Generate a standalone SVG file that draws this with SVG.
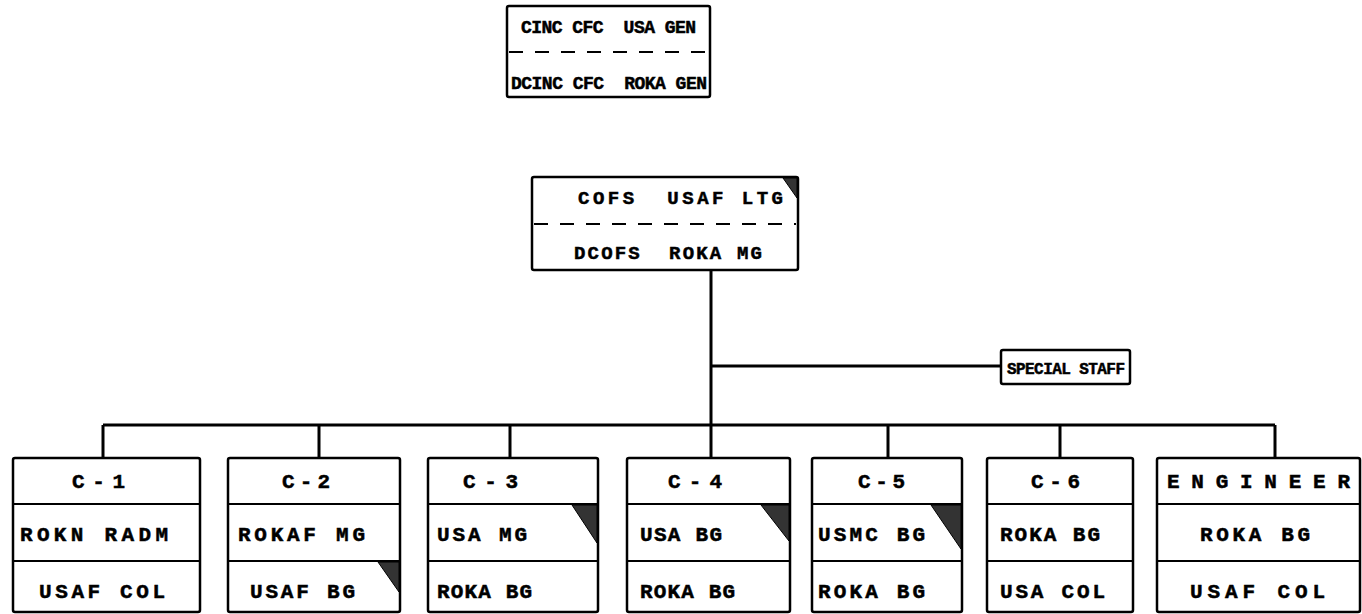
<svg xmlns="http://www.w3.org/2000/svg" width="1362" height="614" viewBox="0 0 1362 614">
<style>
.box{fill:#fff;stroke:#000;stroke-width:2.5}
.div{stroke:#000;stroke-width:2}
.dash{stroke:#000;stroke-width:2;stroke-dasharray:14 12}
.ln{stroke:#000;stroke-width:3;fill:none}
.t{font-family:"Liberation Mono","DejaVu Sans Mono",monospace;font-weight:bold;font-size:21px;fill:#000;stroke:#000;stroke-width:0.5;white-space:pre}
.s{font-size:18px}
.tri{fill:#333;stroke:#000;stroke-width:1}
</style>
<rect width="1362" height="614" fill="#fff"/>
<g id="connectors">
<path class="ln" d="M711 270 V458"/>
<path class="ln" d="M711 366 H1001"/>
<path class="ln" d="M103 425 H1275"/>
<path class="ln" d="M103 425 V458 M319 425 V458 M510 425 V458 M888 425 V458 M1060 425 V458 M1275 425 V458"/>
</g>
<g id="cinc">
<rect class="box" x="507" y="6" width="203" height="91" rx="2"/>
<line class="dash" x1="509" y1="52" x2="708" y2="52"/>
<text class="t s" x="521" y="33" textLength="175" lengthAdjust="spacing">CINC CFC  USA GEN</text>
<text class="t s" x="511" y="89" textLength="196" lengthAdjust="spacing">DCINC CFC  ROKA GEN</text>
</g>
<g id="cofs">
<rect class="box" x="532" y="177" width="266" height="93" rx="2"/>
<line class="dash" x1="534" y1="224" x2="796" y2="224"/>
<polygon class="tri" points="783,178 797,178 797,198"/>
<text class="t" x="578" y="204" textLength="205" lengthAdjust="spacing" style="font-size:19px">COFS  USAF LTG</text>
<text class="t" x="574" y="259" textLength="188" lengthAdjust="spacing" style="font-size:19px">DCOFS  ROKA MG</text>
</g>
<g id="special">
<rect class="box" x="1001" y="350" width="129" height="34" rx="2"/>
<text class="t" x="1007" y="374" textLength="118" lengthAdjust="spacing" style="font-size:16px">SPECIAL STAFF</text>
</g>
<g id="c1">
<rect class="box" x="13" y="458" width="187" height="154" rx="2"/>
<line class="div" x1="13" y1="504" x2="200" y2="504"/><line class="div" x1="13" y1="561" x2="200" y2="561"/>
<text class="t" x="72" y="488" textLength="53" lengthAdjust="spacing">C-1</text>
<text class="t" x="20" y="541" textLength="148" lengthAdjust="spacing">ROKN RADM</text>
<text class="t" x="39" y="598" textLength="126" lengthAdjust="spacing">USAF COL</text>
</g>
<g id="c2">
<rect class="box" x="228" y="458" width="172" height="154" rx="2"/>
<line class="div" x1="228" y1="504" x2="400" y2="504"/><line class="div" x1="228" y1="561" x2="400" y2="561"/>
<polygon class="tri" points="378,562 399,562 399,592"/>
<text class="t" x="282" y="488" textLength="48" lengthAdjust="spacing">C-2</text>
<text class="t" x="238" y="541" textLength="127" lengthAdjust="spacing">ROKAF MG</text>
<text class="t" x="250" y="598" textLength="105" lengthAdjust="spacing">USAF BG</text>
</g>
<g id="c3">
<rect class="box" x="428" y="458" width="170" height="154" rx="2"/>
<line class="div" x1="428" y1="504" x2="598" y2="504"/><line class="div" x1="428" y1="561" x2="598" y2="561"/>
<polygon class="tri" points="572,505 597,505 597,543"/>
<text class="t" x="463" y="488" textLength="55" lengthAdjust="spacing">C-3</text>
<text class="t" x="437" y="541" textLength="90" lengthAdjust="spacing">USA MG</text>
<text class="t" x="437" y="598" textLength="95" lengthAdjust="spacing">ROKA BG</text>
</g>
<g id="c4">
<rect class="box" x="627" y="458" width="163" height="154" rx="2"/>
<line class="div" x1="627" y1="504" x2="790" y2="504"/><line class="div" x1="627" y1="561" x2="790" y2="561"/>
<polygon class="tri" points="761,505 789,505 789,541"/>
<text class="t" x="668" y="488" textLength="54" lengthAdjust="spacing">C-4</text>
<text class="t" x="640" y="541" textLength="82" lengthAdjust="spacing">USA BG</text>
<text class="t" x="640" y="598" textLength="95" lengthAdjust="spacing">ROKA BG</text>
</g>
<g id="c5">
<rect class="box" x="812" y="458" width="150" height="154" rx="2"/>
<line class="div" x1="812" y1="504" x2="962" y2="504"/><line class="div" x1="812" y1="561" x2="962" y2="561"/>
<polygon class="tri" points="931,505 961,505 961,549"/>
<text class="t" x="858" y="488" textLength="47" lengthAdjust="spacing">C-5</text>
<text class="t" x="818" y="541" textLength="107" lengthAdjust="spacing">USMC BG</text>
<text class="t" x="818" y="598" textLength="107" lengthAdjust="spacing">ROKA BG</text>
</g>
<g id="c6">
<rect class="box" x="987" y="458" width="146" height="154" rx="2"/>
<line class="div" x1="987" y1="504" x2="1133" y2="504"/><line class="div" x1="987" y1="561" x2="1133" y2="561"/>
<text class="t" x="1031" y="488" textLength="49" lengthAdjust="spacing">C-6</text>
<text class="t" x="1000" y="541" textLength="100" lengthAdjust="spacing">ROKA BG</text>
<text class="t" x="1000" y="598" textLength="105" lengthAdjust="spacing">USA COL</text>
</g>
<g id="engineer">
<rect class="box" x="1157" y="458" width="203" height="154" rx="2"/>
<line class="div" x1="1157" y1="504" x2="1360" y2="504"/><line class="div" x1="1157" y1="561" x2="1360" y2="561"/>
<text class="t" x="1167" y="488" textLength="183" lengthAdjust="spacing">ENGINEER</text>
<text class="t" x="1200" y="541" textLength="110" lengthAdjust="spacing">ROKA BG</text>
<text class="t" x="1190" y="598" textLength="135" lengthAdjust="spacing">USAF COL</text>
</g>
</svg>
